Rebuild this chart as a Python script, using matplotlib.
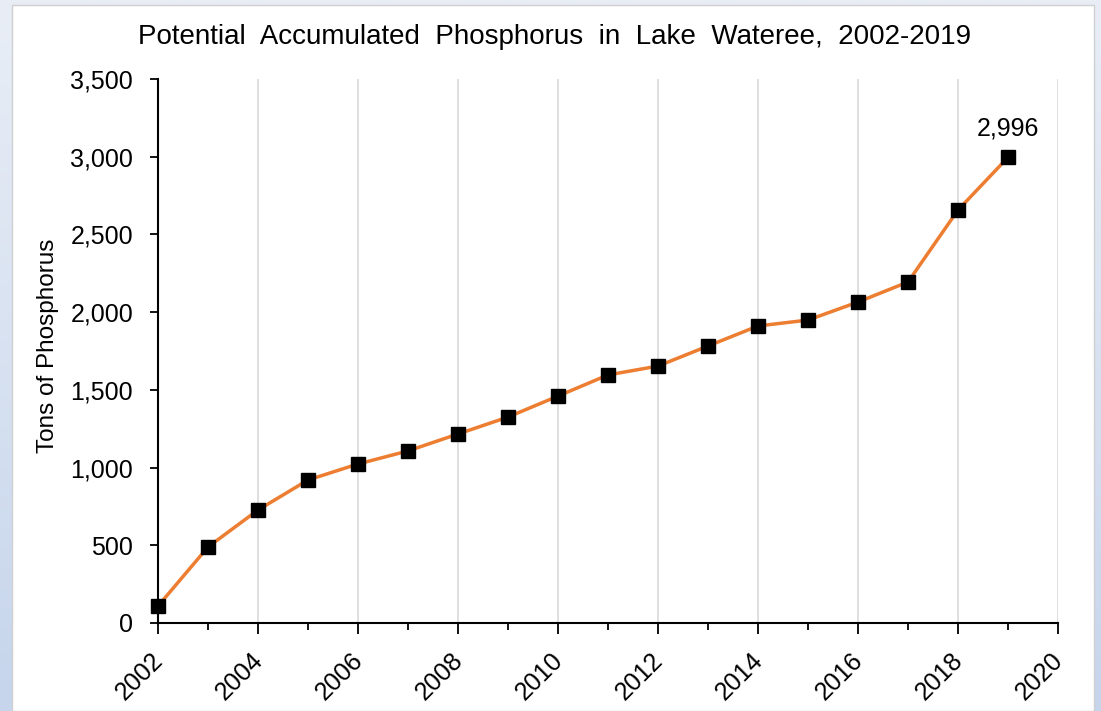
import numpy as np
import matplotlib.pyplot as plt
import matplotlib.transforms as mtransforms
from matplotlib.colors import LinearSegmentedColormap
from matplotlib.patches import Rectangle
from matplotlib.ticker import FuncFormatter, MultipleLocator

years = list(range(2002, 2020))
tons = [109, 489, 727, 920, 1023, 1107, 1216, 1325, 1460, 1596,
        1653, 1782, 1911, 1949, 2065, 2194, 2657, 2996]

plt.rcParams['font.family'] = ['Liberation Sans', 'DejaVu Sans']

fig = plt.figure(figsize=(11.01, 7.11), dpi=100)

# bluish slide background with a soft top-to-bottom gradient
bg = fig.add_axes([0, 0, 1, 1], zorder=-20)
bg.axis('off')
grad = LinearSegmentedColormap.from_list('bg', ['#e9eef6', '#c6d5ec'])
bg.imshow(np.linspace(0, 1, 256).reshape(-1, 1), aspect='auto', cmap=grad,
          extent=[0, 1, 0, 1], origin='upper')
bg.add_patch(Rectangle((12 / 1101, 0), (1094 - 12) / 1101, 1 - 5 / 711,
                       facecolor='white', edgecolor='#d0d0d0', linewidth=1))
bg.set_xlim(0, 1)
bg.set_ylim(0, 1)

ax = fig.add_axes([158 / 1101, 1 - 623 / 711, 900 / 1101, 544 / 711])
ax.set_facecolor('none')

ax.plot(years, tons, color='#ed7d31', linewidth=2.5, marker='s',
        markersize=9.5, markerfacecolor='black', markeredgecolor='black',
        zorder=3, clip_on=False)
ax.annotate('{:,}'.format(tons[-1]), (years[-1], tons[-1]), xytext=(0, 12),
            textcoords='offset points', ha='center', va='bottom', fontsize=18)

ax.set_xlim(2002, 2020)
ax.set_ylim(0, 3500)
ax.xaxis.set_major_locator(MultipleLocator(2))
ax.xaxis.set_minor_locator(MultipleLocator(1))
ax.yaxis.set_major_locator(MultipleLocator(500))
ax.yaxis.set_major_formatter(FuncFormatter(lambda v, p: '{:,.0f}'.format(v)))

ax.grid(axis='x', which='major', color='#d9d9d9', linewidth=1.2)
ax.set_axisbelow(True)

for s in ['top', 'right']:
    ax.spines[s].set_visible(False)
for s in ['left', 'bottom']:
    ax.spines[s].set_linewidth(1.5)

ax.tick_params(axis='y', direction='out', length=6, width=1.3, labelsize=18, pad=12)
ax.tick_params(axis='x', which='major', direction='out', length=8, width=1.3,
               labelsize=18, pad=10)
ax.tick_params(axis='x', which='minor', direction='out', length=5, width=1.3)
shift = mtransforms.ScaledTranslation(-7 / 100, 0, fig.dpi_scale_trans)
for lab in ax.get_xticklabels():
    lab.set_rotation(45)
    lab.set_ha('right')
    lab.set_rotation_mode('anchor')
    lab.set_transform(lab.get_transform() + shift)

ax.set_ylabel('Tons of Phosphorus', fontsize=17.5)
ax.yaxis.set_label_coords(-99 / 900, 0.51)
fig.text(555 / 1101, 1 - 37 / 711,
         'Potential  Accumulated  Phosphorus  in  Lake  Wateree,  2002-2019',
         fontsize=20, ha='center', va='center')

fig.savefig('out.png', dpi=100)
